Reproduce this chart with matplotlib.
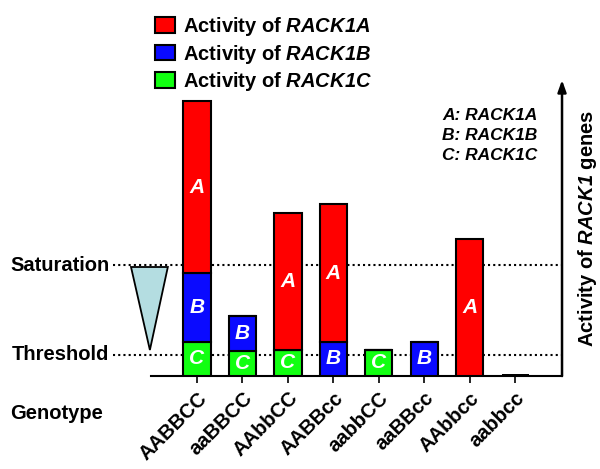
import numpy as np
import matplotlib
matplotlib.use('Agg')
import matplotlib.pyplot as plt
from matplotlib.patches import Polygon

plt.rcParams['font.family'] = ['Liberation Sans', 'DejaVu Sans']
plt.rcParams['font.weight'] = 'bold'
plt.rcParams['mathtext.fontset'] = 'custom'
plt.rcParams['mathtext.rm'] = 'Liberation Sans:italic:bold'
plt.rcParams['mathtext.it'] = 'Liberation Sans:italic:bold'

# data (arbitrary activity units)
genotypes = ['AABBCC', 'aaBBCC', 'AAbbCC', 'AABBcc', 'aabbCC', 'aaBBcc', 'AAbbcc', 'aabbcc']
act_C = [34, 25, 26, 0, 26, 0, 0, 0]
act_B = [69, 35, 0, 34, 0, 34, 0, 0]
act_A = [172, 0, 137, 138, 0, 0, 137, 0]
null_line = [0, 0, 0, 0, 0, 0, 0, 2]
saturation = 111
threshold = 21

x = np.arange(len(genotypes))
C = np.array(act_C)
B = np.array(act_B)
A = np.array(act_A)

fig = plt.figure(figsize=(6, 4.69), dpi=100)
ax = fig.add_axes([0.2517, 0.1983, 0.685, 0.6311])

w = 0.6
bc = ax.bar(x, C, w, color='#11ff11', edgecolor='black', lw=1.5, zorder=3, label='Activity of $\\mathrm{RACK1C}$')
bb = ax.bar(x, B, w, bottom=C, color='#0a0aff', edgecolor='black', lw=1.5, zorder=3, label='Activity of $\\mathrm{RACK1B}$')
ba = ax.bar(x, A, w, bottom=C + B, color='#ff0000', edgecolor='black', lw=1.5, zorder=3, label='Activity of $\\mathrm{RACK1A}$')
ax.bar(x, null_line, w, color='black', zorder=3)

lab = dict(label_type='center', color='white', fontsize=15, fontweight='bold', fontstyle='italic')
ax.bar_label(bc, labels=['C' if v > 0 else '' for v in C], **lab)
ax.bar_label(bb, labels=['B' if v > 0 else '' for v in B], **lab)
ax.bar_label(ba, labels=['A' if v > 0 else '' for v in A], **lab)

xl = (-1.01, 8.03)
ax.set_xlim(xl)
ax.set_ylim(0, 296)

# saturation / threshold dotted lines
for lvl in (saturation, threshold):
    ax.plot([-1.85, xl[1]], [lvl, lvl], ls=(0, (1, 1.5)), color='black', lw=1.5, clip_on=False, zorder=1)
ax.text(-1.93, saturation, 'Saturation', ha='right', va='center', fontsize=14.5)
ax.text(-1.93, threshold, 'Threshold', ha='right', va='center', fontsize=14.5)

tri = Polygon([[-1.45, saturation - 2], [-0.64, saturation - 2], [-1.035, threshold + 5]],
              closed=True, facecolor='#b4dde1', edgecolor='black', lw=1.3, clip_on=False)
ax.add_patch(tri)

# axes styling
ax.spines['top'].set_visible(False)
ax.spines['left'].set_visible(False)
ax.spines['right'].set_visible(False)
ax.spines['bottom'].set_linewidth(1.5)
ax.annotate('', xy=(1, 1.0), xytext=(1, 0), xycoords='axes fraction',
            arrowprops=dict(arrowstyle='-|>,head_length=0.7,head_width=0.25', lw=1.8, color='black', shrinkA=0, shrinkB=0))
ax.set_yticks([])
ax.set_xticks(x)
ax.set_xticklabels(genotypes, rotation=45, ha='right', rotation_mode='anchor', fontsize=14.5)
ax.tick_params(axis='x', length=5, width=1.2, pad=4)
fig.text(10 / 600, 1 - 413 / 469, 'Genotype', ha='left', va='center', fontsize=14.5)

ax.set_ylabel('Activity of $\\mathrm{RACK1}$ genes', fontsize=14.5, fontweight='bold', rotation=90, labelpad=10)
ax.yaxis.set_label_position('right')

ax.text(0.825, 0.905, 'A: RACK1A\nB: RACK1B\nC: RACK1C', transform=ax.transAxes, ha='center', va='top',
        fontsize=12.5, fontstyle='italic', linespacing=1.42)

h, l = ax.get_legend_handles_labels()
fig.legend(h[::-1], l[::-1], loc='upper left', bbox_to_anchor=(0.258, 0.968), frameon=False, fontsize=14.5,
           handlelength=1.0, handleheight=0.82, handletextpad=0.4, labelspacing=0.23, borderpad=0, borderaxespad=0)

fig.savefig('out.png', dpi=100)
